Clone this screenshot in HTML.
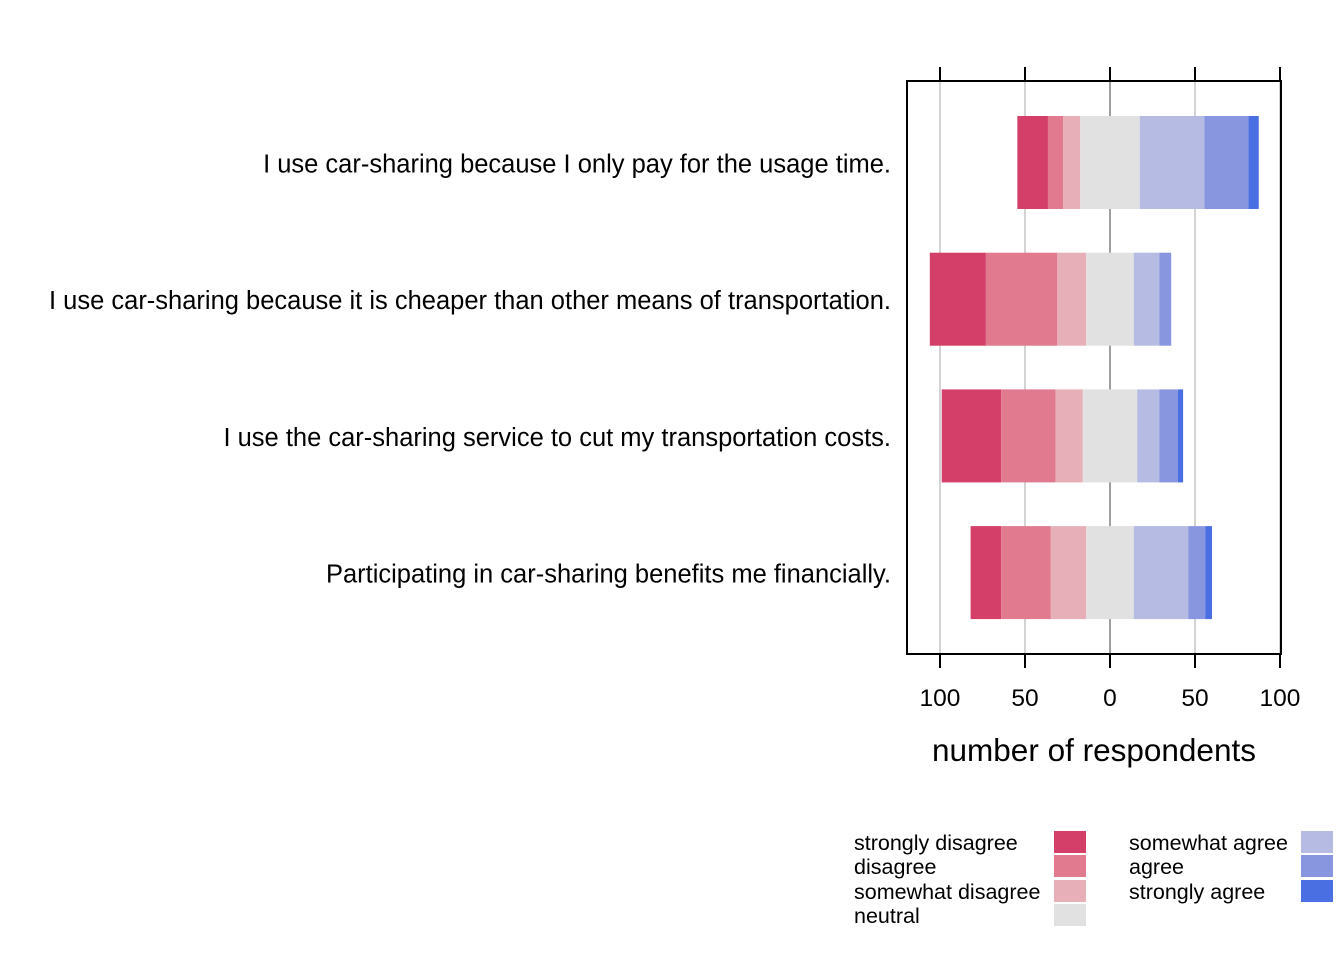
<!DOCTYPE html>
<html><head><meta charset="utf-8"><style>
html,body{margin:0;padding:0;background:#fff;}
svg{display:block;font-family:"Liberation Sans",Arial,sans-serif;}
</style></head><body>
<svg id="chart" width="1344" height="960"></svg>
<script>
const questions = [
 "I use car-sharing because I only pay for the usage time.",
 "I use car-sharing because it is cheaper than other means of transportation.",
 "I use the car-sharing service to cut my transportation costs.",
 "Participating in car-sharing benefits me financially."
];
const levels = ["strongly disagree","disagree","somewhat disagree","neutral","somewhat agree","agree","strongly agree"];
const colors = ["#d43f6a","#e17a8f","#e7b0b9","#e1e1e1","#b5bbe2","#8896e0","#4a6fe3"];
const stronglyDisagree = [18,33,35,18];
const disagree = [9,42,32,29];
const somewhatDisagree = [10,17,16,21];
const neutral = [35,28,32,28];
const somewhatAgree = [38,15,13,32];
const agree = [26,7,11,10];
const stronglyAgree = [6,0,3,4];
const tickValues = [-100,-50,0,50,100];
const tickLabels = ["100","50","0","50","100"];

const svg = document.getElementById('chart');
const NS = "http://www.w3.org/2000/svg";
const x0 = 1110, pxPer = 1.7;
const xs = v => x0 + v*pxPer;
const rowY = i => 162.5 + i*136.7;
const barH = 93;
function mk(tag, attrs, parent){const e=document.createElementNS(NS,tag);for(const k in attrs)e.setAttribute(k,attrs[k]);(parent||svg).appendChild(e);return e;}

tickValues.forEach(v=>{
  const g=mk('line',{x1:xs(v),x2:xs(v),y1:81,y2:654,stroke:v===0?'#a0a0a0':'#d3d3d3','stroke-width':2});
  
  
});
const series=[stronglyDisagree,disagree,somewhatDisagree,neutral,somewhatAgree,agree,stronglyAgree];
questions.forEach((q,i)=>{
  let left = -(series[0][i]+series[1][i]+series[2][i]+series[3][i]/2);
  const y=rowY(i)-barH/2;
  series.forEach((s,k)=>{
    const w=s[i];
    if(w>0){
      const r=mk('rect',{x:xs(left),y:y,width:w*pxPer,height:barH,fill:colors[k]});
      
      
    }
    left+=w;
  });
  const t=mk('text',{x:891,y:rowY(i)+10,'text-anchor':'end','font-size':25.5,fill:'#000'});
  t.textContent=q;
  
  
});
const fr=mk('rect',{x:907,y:81,width:374,height:573,fill:'none',stroke:'#000','stroke-width':2});


tickValues.forEach((v,j)=>{
  const a=mk('line',{x1:xs(v),x2:xs(v),y1:67,y2:81,stroke:'#000','stroke-width':2});
  
  
  const b=mk('line',{x1:xs(v),x2:xs(v),y1:654,y2:668,stroke:'#000','stroke-width':2});
  
  
  const t=mk('text',{x:xs(v),y:706,'text-anchor':'middle','font-size':24.5});
  t.textContent=tickLabels[j];
  
  
});
const xt=mk('text',{x:1094,y:761,'text-anchor':'middle','font-size':31.5});
xt.textContent='number of respondents';


const legY=[831,855,880,904];
levels.forEach((l,k)=>{
  const col=k<4?0:1, row=k<4?k:k-4;
  const tx=col?1129:854, sx=col?1301:1054;
  const t=mk('text',{x:tx,y:legY[row]+19,'font-size':21.5});
  t.textContent=l;
  
  
  const r=mk('rect',{x:sx,y:legY[row],width:32,height:22,fill:colors[k]});
  
  
});
</script>
</body></html>
